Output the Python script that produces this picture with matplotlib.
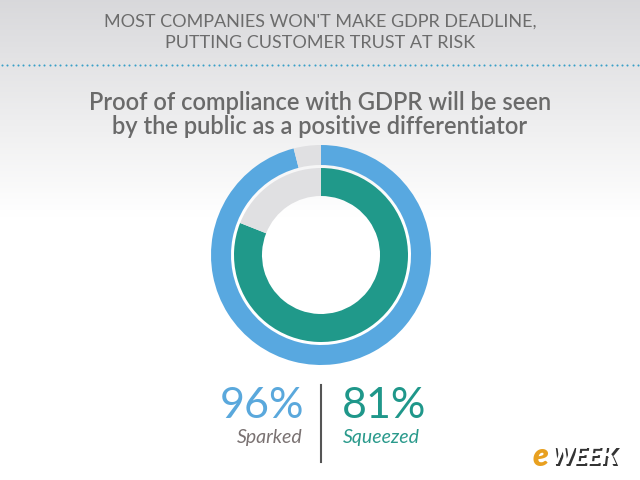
import matplotlib
matplotlib.use("Agg")
import matplotlib.pyplot as plt
import numpy as np

title_lines = ["MOST COMPANIES WON'T MAKE GDPR DEADLINE,", "PUTTING CUSTOMER TRUST AT RISK"]
subtitle_lines = ["Proof of compliance with GDPR will be seen", "by the public as a positive differentiator"]
groups = ["Sparked", "Squeezed"]
values = [96, 81]

blue = "#58a8e0"
teal = "#20998a"
grey_seg = "#e0e0e2"

fig = plt.figure(figsize=(6.4, 4.8), dpi=100)
ax = fig.add_axes([0, 0, 1, 1])

# background gradient
grad = np.linspace(0, 1, 256)
top = np.array([0.85, 0.85, 0.86])
bot = np.array([1.0, 1.0, 1.0])
t = np.clip(grad / 0.45, 0, 1)
cols = top * (1 - t)[:, None] + bot * t[:, None]
cols = cols.reshape(256, 1, 3)
ax.imshow(cols, extent=[0, 640, 0, 480], origin="upper", aspect="auto", zorder=0)

fam = ["Lato", "DejaVu Sans"]
ax.text(320, 480 - 22, title_lines[0], ha="center", va="center", fontsize=13, color="#6c6c6c",
        family=fam, fontweight="normal", zorder=3)
ax.text(320, 480 - 43, title_lines[1], ha="center", va="center", fontsize=13, color="#6c6c6c",
        family=fam, fontweight="normal", zorder=3)

# dotted line
xs = np.arange(2, 640, 5.3)
ax.scatter(xs, np.full_like(xs, 480 - 65), s=2.2, color="#3aa0c8", zorder=3, linewidths=0)

ax.text(320, 480 - 102, subtitle_lines[0], ha="center", va="center", fontsize=17, color="#6a6a6a",
        family=fam, fontweight="semibold", zorder=3)
ax.text(320, 480 - 127, subtitle_lines[1], ha="center", va="center", fontsize=17, color="#6a6a6a",
        family=fam, fontweight="semibold", zorder=3)

cx, cy = 321, 480 - 255
R_out, w_out = 110, 20
R_in, w_in = 87, 28
ax.pie([values[0], 100 - values[0]], colors=[blue, grey_seg], radius=R_out, center=(cx, cy),
       startangle=90, counterclock=False, wedgeprops=dict(width=w_out, linewidth=0), frame=True)
ax.pie([values[1], 100 - values[1]], colors=[teal, grey_seg], radius=R_in, center=(cx, cy),
       startangle=90, counterclock=False, wedgeprops=dict(width=w_in, linewidth=0), frame=True)
ax.set_xlim(0, 640)
ax.set_ylim(0, 480)
ax.set_aspect("auto")
ax.axis("off")

# labels
ax.text(262, 480 - 406, f"{values[0]}%", ha="center", va="center", fontsize=31, color="#5aa8dc",
        family=fam, fontweight="normal", zorder=3)
ax.text(384, 480 - 406, f"{values[1]}%", ha="center", va="center", fontsize=31, color="#1f978a",
        family=fam, fontweight="normal", zorder=3)
ax.text(270, 480 - 437, groups[0], ha="center", va="center", fontsize=14, color="#7a7272",
        family=fam, style="italic", zorder=3)
ax.text(381, 480 - 437, groups[1], ha="center", va="center", fontsize=14, color="#2a9a8c",
        family=fam, style="italic", zorder=3)
ax.plot([321, 321], [480 - 385, 480 - 462], color="#555555", lw=1.5, zorder=3)

# logo
ax.text(533, 480 - 457, "e", ha="left", va="center", fontsize=23, color="#e8a020", family=fam,
        fontweight="heavy", style="italic", zorder=4)
ax.text(550, 480 - 457, "WEEK", ha="left", va="center", fontsize=18, color="white", family=fam,
        fontweight="heavy", style="italic", zorder=4)
ax.text(551.5, 480 - 458.5, "WEEK", ha="left", va="center", fontsize=18, color="#333333", family=fam,
        fontweight="heavy", style="italic", zorder=3.5)

fig.savefig("out.png", dpi=100)
